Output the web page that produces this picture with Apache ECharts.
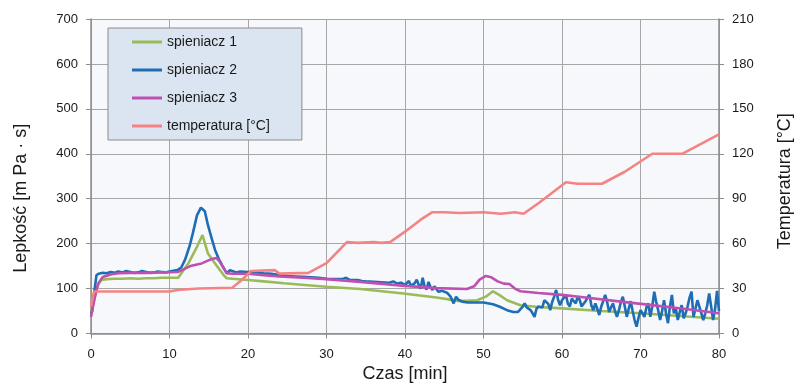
<!DOCTYPE html>
<html>
<head>
<meta charset="utf-8">
<script src="https://cdn.jsdelivr.net/npm/echarts@6/dist/echarts.min.js"></script>
<style>
html,body{margin:0;padding:0;background:#fff;}
#chart{width:805px;height:389px;}
</style>
</head>
<body>
<div id="chart"></div>
<script>
// ---- data (time in minutes) ----
const seriesNames = ['spieniacz 1', 'spieniacz 2', 'spieniacz 3', 'temperatura [°C]'];
const xTicks = [0, 10, 20, 30, 40, 50, 60, 70, 80];
const leftTicks = [0, 100, 200, 300, 400, 500, 600, 700];
const rightTicks = [0, 30, 60, 90, 120, 150, 180, 210];

// spieniacz 1 (green)
const t1 = [0, 0.3, 0.9, 1.3, 2, 3, 4, 5, 6, 7, 8, 9, 10, 11.1, 12.4, 13.5, 14.2, 14.9, 15.8, 16.9, 17.3, 18, 20, 22, 24.6, 28, 30, 34.3, 39.8, 44, 47, 49.2, 50.3, 51.2, 52, 53, 54.7, 57, 60, 65, 70, 75, 80];
const v1 = [50, 68, 108, 119, 121, 122, 122, 123, 122, 123, 123, 124, 124, 124, 156, 193, 219, 178, 156, 130, 123, 122, 119, 116, 112, 107, 104, 99, 89, 80, 72, 74, 82, 94, 86, 74, 63, 59, 56, 50, 45, 39, 33];

// spieniacz 2 (blue)
const t2 = [0, 0.15, 0.45, 0.7, 1, 1.5, 2, 2.5, 3, 3.5, 4, 4.5, 5, 5.5, 6, 6.5, 7, 7.5, 8, 8.5, 9, 9.5, 10, 11, 11.5, 12, 12.6, 13, 13.5, 14, 14.2, 14.5, 14.9, 15.4, 15.8, 16.3, 16.7, 17.3, 17.7, 18, 18.5, 19, 20, 21, 22, 23, 24,
  25, 26, 27, 28, 29, 30, 31, 32, 32.5, 33, 34, 34.5, 35, 36, 37,
  38, 38.25, 38.5, 38.75, 39, 39.25, 39.5, 39.75, 40, 40.25, 40.5, 40.75, 41, 41.25, 41.5, 41.75, 42, 42.25, 42.5, 42.75, 43, 43.25, 43.5, 43.75, 44, 44.25, 44.5, 44.75, 45, 45.4, 45.8, 46.2, 46.5, 46.8, 47.3, 48, 49, 50, 51.2, 52, 53, 53.8, 54.4,
  55, 55.25, 55.5, 55.75, 56, 56.25, 56.5, 56.75, 57, 57.25, 57.5, 57.75, 58, 58.25, 58.5, 58.75, 59, 59.25, 59.5, 59.75,
  60, 60.25, 60.5, 60.75, 61, 61.25, 61.5, 61.75, 62, 62.25, 62.5, 62.75, 63, 63.25, 63.5, 63.75, 64, 64.25, 64.5, 64.75,
  65, 65.25, 65.5, 65.75, 66, 66.25, 66.5, 66.75, 67, 67.25, 67.5, 67.75, 68, 68.25, 68.5, 68.75, 69, 69.25, 69.5, 69.75,
  70, 70.25, 70.5, 70.75, 71, 71.25, 71.5, 71.75, 72, 72.25, 72.5, 72.75, 73, 73.25, 73.5, 73.75, 74, 74.25, 74.5, 74.75,
  75, 75.25, 75.5, 75.75, 76, 76.25, 76.5, 76.75, 77, 77.25, 77.5, 77.75, 78, 78.25, 78.5, 78.75, 79, 79.25, 79.5, 79.75, 80];
const v2 = [45, 50, 97, 130, 133, 135, 134, 137, 135, 138, 136, 139, 137, 135, 136, 139, 137, 135, 136, 138, 137, 136, 138, 141, 147, 165, 197, 225, 263, 280, 282, 272, 241, 210, 186, 165, 152, 134, 141, 139, 136, 138, 137, 136, 134, 133, 130,
  128, 127, 126, 125, 124, 122, 121, 121, 124, 119, 119, 117, 116, 115, 114,
  113, 115, 116, 112, 111, 114, 113, 109, 108, 112, 117, 106, 104, 112, 120, 108, 100, 124, 104, 98, 115, 103, 97, 105, 99, 93, 97, 95, 92, 90, 82, 67, 82, 75, 71, 69, 69, 69, 65, 60, 52, 48, 48,
  60, 67, 58, 62, 52, 45, 37, 55, 60, 63, 58, 74, 72, 66, 52, 70, 82, 97, 75, 63,
  74, 70, 86, 66, 60, 78, 72, 67, 82, 75, 60, 66, 72, 80, 86, 62, 52, 67, 55, 41,
  60, 72, 86, 70, 48, 58, 67, 50, 37, 52, 70, 82, 60, 37, 55, 72, 50, 30, 15, 35,
  52, 45, 37, 58, 67, 37, 60, 93, 70, 52, 30, 50, 74, 45, 23, 60, 86, 45, 55, 30,
  48, 63, 34, 45, 60, 80, 93, 37, 55, 74, 60, 45, 30, 45, 63, 89, 60, 30, 55, 95, 50];

// spieniacz 3 (magenta)
const t3 = [0, 0.5, 0.9, 1.5, 2.6, 3.5, 5, 7, 9, 11.1, 12.8, 14.1, 15.4, 16, 16.4, 16.9, 17.3, 18, 20, 22, 24, 27, 30, 34.3, 40, 44, 47.9, 48.8, 49.5, 50.3, 51, 51.8, 52.6, 53.3, 54, 54.7, 57, 60, 63, 67.5, 72, 76, 80];
const v3 = [37, 82, 111, 126, 132, 134, 135, 135, 136, 137, 151, 156, 166, 168, 160, 145, 134, 133, 133, 130, 127, 124, 121, 115, 106, 101, 99, 105, 120, 128, 125, 116, 111, 110, 100, 94, 90, 86, 80, 71, 62, 54, 45];

// temperatura [°C] (right axis)
const tT = [0, 0.4, 5, 10, 11, 13.7, 18, 19.2, 20.4, 23.4, 24, 27.7, 30, 32.6, 34, 36, 37, 38.1, 40, 42, 43.5, 45, 47, 50, 52.2, 54, 55.1, 57, 60.5, 62, 65.1, 68, 71.5, 75.3, 80];
const vT = [18, 28, 28, 28, 29, 30, 30.5, 35.7, 41.7, 42.3, 40, 40.5, 47, 61, 60.5, 61, 60.5, 61, 68, 76, 81, 81, 80.5, 81, 80, 81, 80, 87, 101, 100, 100, 108, 120, 120, 133];

const colors = ['#9bbb59', '#1f6db5', '#bf4fb2', '#f58384'];

function zip(ts, vs) { return ts.map((t, i) => [t, vs[i]]); }

const chart = echarts.init(document.getElementById('chart'), null, { renderer: 'canvas' });
const FONT = '"Liberation Sans", Arial, sans-serif';
const axisGray = '#8c8c8c';
const gridGray = '#a6a6a6';

const option = {
  animation: false,
  backgroundColor: '#ffffff',
  textStyle: { fontFamily: FONT },
  grid: { left: 91, right: 86, top: 19, bottom: 55.5, show: true, backgroundColor: '#f6f8fb', borderWidth: 0, containLabel: false },
  legend: {
    orient: 'vertical',
    left: 108, top: 28,
    data: seriesNames.map(n => ({ name: n, icon: 'path://M0,0H30V3H0Z' })),
    backgroundColor: '#dbe5f1',
    borderColor: '#8c8c8c', borderWidth: 1,
    padding: [7, 32, 7, 24],
    itemWidth: 30, itemHeight: 14, itemGap: 14,
    textStyle: { fontFamily: FONT, fontSize: 14, color: '#1a1a1a' }
  },
  xAxis: {
    type: 'value', min: xTicks[0], max: xTicks[xTicks.length - 1], interval: 10,
    name: 'Czas [min]', nameLocation: 'middle', nameGap: 28,
    nameTextStyle: { fontFamily: FONT, fontSize: 18, color: '#1a1a1a' },
    axisLine: { show: true, onZero: false, lineStyle: { color: axisGray, width: 1.5 } },
    axisTick: { show: true, inside: false, length: 5, lineStyle: { color: axisGray } },
    axisLabel: { margin: 14, fontSize: 13, color: '#1a1a1a', fontFamily: FONT },
    splitLine: { show: true, lineStyle: { color: gridGray, width: 1 } }
  },
  yAxis: [{
    type: 'value', min: leftTicks[0], max: leftTicks[leftTicks.length - 1], interval: 100,
    name: 'Lepkość [m Pa · s]', nameLocation: 'middle', nameGap: 61, nameRotate: 90,
    nameTextStyle: { fontFamily: FONT, fontSize: 18, color: '#1a1a1a', padding: [0, 44, 0, 0] },
    axisLine: { show: true, lineStyle: { color: axisGray, width: 1.5 } },
    axisTick: { show: true, inside: false, length: 5, lineStyle: { color: axisGray } },
    axisLabel: { margin: 13, fontSize: 13, color: '#1a1a1a', fontFamily: FONT },
    splitLine: { show: true, lineStyle: { color: gridGray, width: 1 } }
  }, {
    type: 'value', position: 'right', min: rightTicks[0], max: rightTicks[rightTicks.length - 1], interval: 30,
    name: 'Temperatura [°C]', nameLocation: 'middle', nameGap: 57, nameRotate: 90,
    nameTextStyle: { fontFamily: FONT, fontSize: 18, color: '#1a1a1a', padding: [0, 10, 0, 0] },
    axisLine: { show: true, lineStyle: { color: axisGray, width: 1.5 } },
    axisTick: { show: true, inside: false, length: 5, lineStyle: { color: axisGray } },
    axisLabel: { margin: 13, fontSize: 13, color: '#1a1a1a', fontFamily: FONT },
    splitLine: { show: false }
  }],
  series: [
    { name: seriesNames[0], type: 'line', data: zip(t1, v1) },
    { name: seriesNames[1], type: 'line', data: zip(t2, v2) },
    { name: seriesNames[2], type: 'line', data: zip(t3, v3) },
    { name: seriesNames[3], type: 'line', yAxisIndex: 1, data: zip(tT, vT) }
  ].map((s, i) => Object.assign(s, {
    symbol: 'none', showSymbol: false, smooth: false,
    color: colors[i],
    itemStyle: { color: colors[i] },
    lineStyle: { color: colors[i], width: 2.6 },
    emphasis: { disabled: true }
  }))
};
chart.setOption(option);
</script>
</body>
</html>
